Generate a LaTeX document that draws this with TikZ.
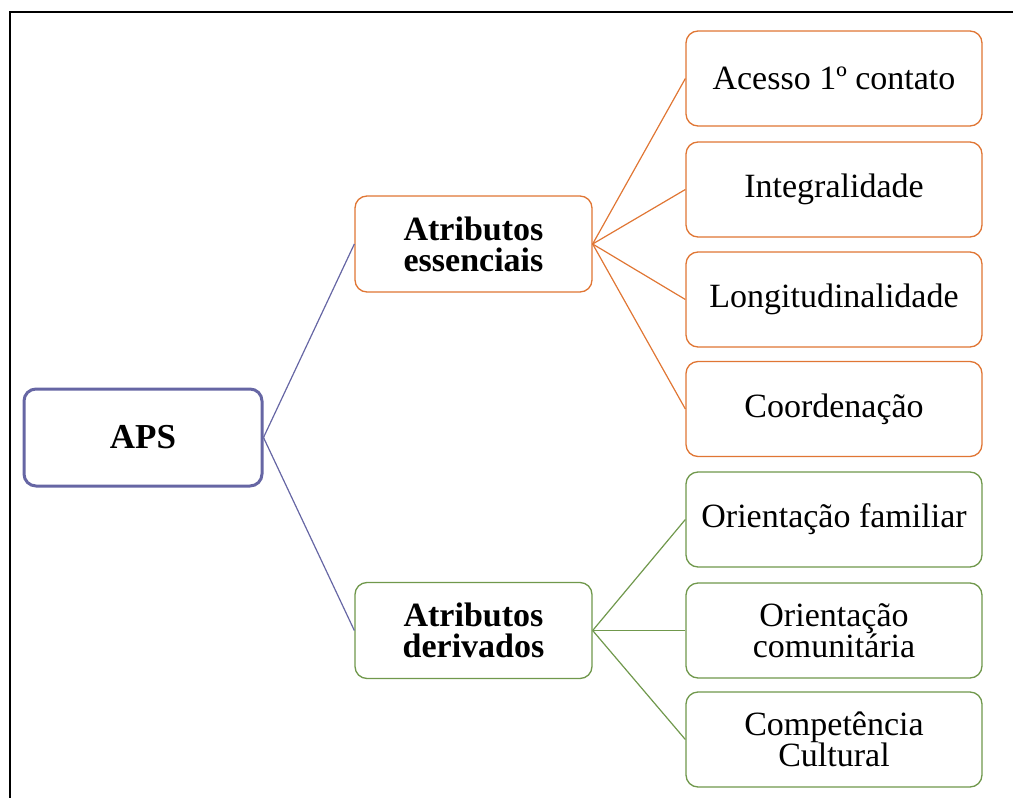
\documentclass[tikz,border=0pt]{standalone}
\usepackage{fontspec}
\setmainfont{Liberation Serif}
\definecolor{apsc}{RGB}{102,102,164}
\definecolor{orc}{RGB}{224,118,52}
\definecolor{grc}{RGB}{112,152,76}
\begin{document}
\begin{tikzpicture}[x=1pt,y=-1pt,
  box/.style={draw,rounded corners=12pt,fill=white,align=center,inner sep=0pt,
    font=\fontsize{34}{31}\selectfont},
  leaf/.style={box,minimum width=296pt,minimum height=95pt,line width=1.3pt},
  obox/.style={leaf,draw=orc},
  gbox/.style={leaf,draw=grc},
  mid/.style={box,minimum width=237pt,minimum height=96pt,line width=1.3pt,
    font=\fontsize{34}{31}\selectfont\bfseries},
  link/.style={line width=1.2pt}]
\useasboundingbox (0,0) rectangle (1013,798);
\draw[line width=2.8pt] (10,798) -- (10,12) -- (1013,12);
\node[box,draw=apsc,line width=3pt,minimum width=238pt,minimum height=97pt,
  font=\fontsize{35}{31}\selectfont\bfseries] (aps) at (143,437.5) {APS};
\node[mid,draw=orc] (ae) at (473.5,244) {Atributos\\essenciais};
\node[mid,draw=grc] (ad) at (473.5,630.5) {Atributos\\derivados};
\node[obox] (a1) at (834,78.5) {Acesso 1º contato};
\node[obox] (a2) at (834,189.5) {Integralidade};
\node[obox] (a3) at (834,299.5) {Longitudinalidade};
\node[obox] (a4) at (834,409) {Coordenação};
\node[gbox] (d1) at (834,519.5) {Orientação familiar};
\node[gbox] (d2) at (834,630.5) {Orientação\\comunitária};
\node[gbox] (d3) at (834,739.5) {Competência\\Cultural};
\draw[link,apsc] (aps.east) -- (ae.west);
\draw[link,apsc] (aps.east) -- (ad.west);
\foreach \n in {a1,a2,a3,a4} \draw[link,orc] (ae.east) -- (\n.west);
\foreach \n in {d1,d2,d3} \draw[link,grc] (ad.east) -- (\n.west);
\end{tikzpicture}
\end{document}
